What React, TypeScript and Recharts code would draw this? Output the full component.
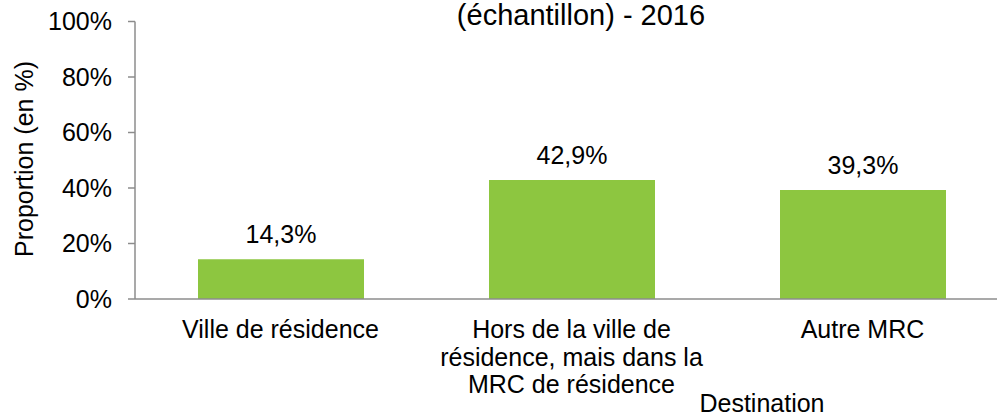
import { BarChart, Bar, XAxis, YAxis, LabelList } from 'recharts'

const categories = ['Ville de résidence', 'Hors de la ville de résidence, mais dans la MRC de résidence', 'Autre MRC']
const categoryLines = [['Ville de résidence'], ['Hors de la ville de', 'résidence, mais dans la', 'MRC de résidence'], ['Autre MRC']]
const proportions = [14.3, 42.9, 39.3]
const yTicks = [0, 20, 40, 60, 80, 100]

const FONT = '"Liberation Sans", Arial, sans-serif'
const AXIS = '#8c8c8c'
const GREEN = '#8DC640'

const data = categories.map((name, i) => ({ name, value: proportions[i] }))

function CategoryTick({ x, y, payload }: any) {
  const lines = categoryLines[categories.indexOf(payload.value)] ?? [payload.value]
  return (
    <text x={x} y={y + 31} textAnchor="middle" fontSize={25} fill="#000" fontFamily={FONT}>
      {lines.map((l, i) => (
        <tspan key={i} x={x} dy={i === 0 ? 0 : 27.5}>{l}</tspan>
      ))}
    </text>
  )
}

export default function App() {
  return (
    <div style={{ position: 'absolute', left: 0, top: 0, width: 997, height: 417, overflow: 'hidden', background: '#fff', fontFamily: FONT }}>
      <BarChart width={1010} height={417} data={data} margin={{ top: 21.5, right: 2, bottom: 0, left: 0 }} style={{ fontFamily: FONT }}>
        <XAxis dataKey="name" height={118} interval={0} tickLine={false}
          axisLine={{ stroke: AXIS, strokeWidth: 1.5 }} tick={<CategoryTick />} />
        <YAxis type="number" domain={[0, 100]} ticks={yTicks} width={135} tickSize={7} tickMargin={16}
          axisLine={{ stroke: AXIS, strokeWidth: 1.5 }} tickLine={{ stroke: AXIS, strokeWidth: 1.5 }}
          tick={{ fontSize: 25, fill: '#000', fontFamily: FONT }} tickFormatter={v => `${v}%`} />
        <Bar dataKey="value" fill={GREEN} barSize={166} isAnimationActive={false}>
          <LabelList dataKey="value" position="top" offset={16} fill="#000" fontSize={25} fontFamily={FONT}
            formatter={(v: any) => `${Number(v).toFixed(1).replace('.', ',')}%`} />
        </Bar>
      </BarChart>

      {/* titles */}
      <svg width={997} height={417} style={{ position: 'absolute', left: 0, top: 0, pointerEvents: 'none' }}>
        <text x={581} y={25} textAnchor="middle" fontSize={29} fill="#000" fontFamily={FONT}>(échantillon) - 2016</text>
        <text x={762} y={412} textAnchor="middle" fontSize={25} fill="#000" fontFamily={FONT}>Destination</text>
        <text x={33} y={159} textAnchor="middle" fontSize={25} fill="#000" fontFamily={FONT} transform="rotate(-90 33 159)">Proportion (en %)</text>
      </svg>
    </div>
  )
}
